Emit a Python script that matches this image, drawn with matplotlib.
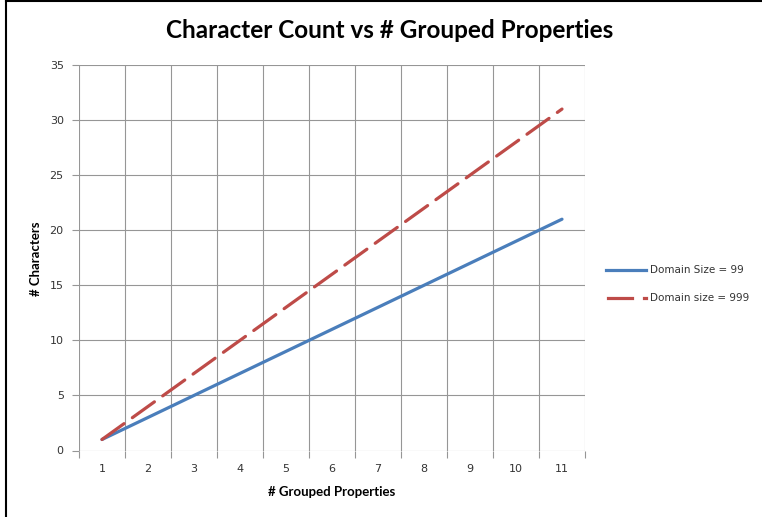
import matplotlib
matplotlib.use("Agg")
import matplotlib.pyplot as plt
from matplotlib.lines import Line2D

categories = [1, 2, 3, 4, 5, 6, 7, 8, 9, 10, 11]
domain_99 = [1, 3, 5, 7, 9, 11, 13, 15, 17, 19, 21]
domain_999 = [1, 4, 7, 10, 13, 16, 19, 22, 25, 28, 31]
y_ticks = [0, 5, 10, 15, 20, 25, 30, 35]

W, H = 762, 517
fig = plt.figure(figsize=(W / 100, H / 100), dpi=100)
l, r, b, t = 79, 585, 450.5, 65
ax = fig.add_axes([l / W, 1 - b / H, (r - l) / W, (b - t) / H])

grid_c = "#969696"
blue = "#4a7ebb"
red = "#be4b48"

ax.plot(categories, domain_99, color=blue, lw=2.3, solid_capstyle="round", label="Domain Size = 99", zorder=3)
ax.plot(categories, domain_999, color=red, lw=2.3, dashes=(8.5, 3.2), dash_capstyle="round",
        label="Domain size = 999", zorder=3)

ax.set_xlim(0.5, 11.5)
ax.set_ylim(0, 35)
ax.set_yticks(y_ticks)
ax.set_xticks(categories)
ax.set_xticks([c + 0.5 for c in [0] + categories], minor=True)

for y in y_ticks:
    ax.axhline(y, color=grid_c, lw=0.8, zorder=1)
for xb in [c + 0.5 for c in [0] + categories]:
    ax.axvline(xb, color=grid_c, lw=0.8, zorder=1)

for s in ax.spines.values():
    s.set_visible(False)
ax.tick_params(axis="y", which="major", length=5, width=0.8, color=grid_c, direction="out",
               labelsize=8, labelcolor="#333333", pad=6)
ax.tick_params(axis="x", which="major", length=0, labelsize=8, labelcolor="#333333", pad=10)
ax.tick_params(axis="x", which="minor", length=5, width=0.8, color=grid_c, direction="out")
for lab in ax.get_xticklabels() + ax.get_yticklabels():
    lab.set_family("DejaVu Sans")

fig.text(390 / W, 1 - 31 / H, "Character Count vs # Grouped Properties", ha="center", va="center",
         fontsize=17.5, fontweight="bold", family="Lato")
fig.text(332 / W, 1 - 492 / H, "# Grouped Properties", ha="center", va="center",
         fontsize=9.5, fontweight="bold", family="Lato")
fig.text(36 / W, 1 - 259 / H, "# Characters", ha="center", va="center", rotation=90,
         fontsize=9.5, fontweight="bold", family="Lato")

# legend
fig.add_artist(Line2D([606 / W, 646 / W], [1 - 270 / H] * 2, color=blue, lw=2.3))
fig.text(650 / W, 1 - 270 / H, "Domain Size = 99", va="center", fontsize=7.5, family="DejaVu Sans", color="#333333")
fig.add_artist(Line2D([608 / W, 632 / W], [1 - 298 / H] * 2, color=red, lw=2.3))
fig.add_artist(Line2D([644 / W, 646 / W], [1 - 298 / H] * 2, color=red, lw=2.3))
fig.text(650 / W, 1 - 298 / H, "Domain size = 999", va="center", fontsize=7.5, family="DejaVu Sans", color="#333333")

# screenshot border (left & top)
fig.add_artist(Line2D([6 / W, 6 / W], [0, 1], color="black", lw=1.5))
fig.add_artist(Line2D([6 / W, 1], [1 - 1 / H] * 2, color="black", lw=1.5))

fig.savefig("out.png", dpi=100)
